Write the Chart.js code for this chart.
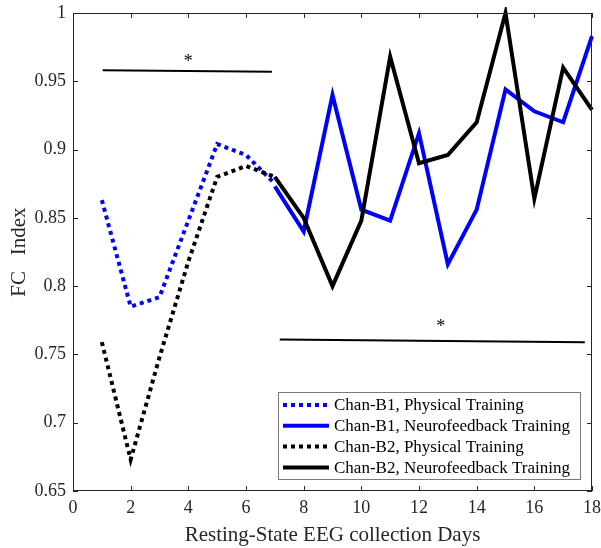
<!DOCTYPE html>
<html>
<head>
<meta charset="utf-8">
<script src="https://cdn.jsdelivr.net/npm/chart.js@4.4.1/dist/chart.umd.min.js"></script>
<style>
  html, body { margin: 0; padding: 0; background: #fff; }
  #wrap { width: 601px; height: 548px; }
</style>
</head>
<body>
<div id="wrap"><canvas id="chartFC" width="601" height="548"></canvas></div>
<script>
// datos
const diasFisico = [1, 2, 3, 4, 5, 6, 7]
const diasNeuro = [7, 8, 9, 10, 11, 12, 13, 14, 15, 16, 17, 18]

const b1Fisico = [0.863, 0.785, 0.792, 0.848, 0.904, 0.896, 0.875]
const b1Neuro = [0.873, 0.840, 0.940, 0.856, 0.848, 0.912, 0.816, 0.856, 0.944, 0.928, 0.920, 0.983]
const b2Fisico = [0.759, 0.673, 0.748, 0.818, 0.880, 0.888, 0.880]
const b2Neuro = [0.880, 0.850, 0.800, 0.848, 0.968, 0.890, 0.896, 0.920, 1.000, 0.864, 0.960, 0.929]

const etiquetas = [
    'Chan-B1, Physical Training',
    'Chan-B1, Neurofeedback Training',
    'Chan-B2, Physical Training',
    'Chan-B2, Neurofeedback Training'
]

// lineas de significancia y asteriscos
const sigX1 = [1.03, 6.9]
const sigY1 = [0.958, 0.957]
const sigX2 = [7.17, 17.75]
const sigY2 = [0.761, 0.759]
const asteriscos = [{ x: 4.0, y: 0.966 }, { x: 12.75, y: 0.772 }]

const xTicks = [0, 2, 4, 6, 8, 10, 12, 14, 16, 18]
const yTicks = [0.65, 0.7, 0.75, 0.8, 0.85, 0.9, 0.95, 1]

const aPuntos = (xs, ys) => xs.map((x, i) => ({ x: x, y: ys[i] }))

const fuente = '"Liberation Serif", "Times New Roman", serif'
const gris = '#262626'

const serie = (datos, color, punteada, orden) => ({
    data: datos,
    borderColor: color,
    borderWidth: 4,
    borderDash: punteada ? [4, 4] : [],
    borderCapStyle: 'butt',
    borderJoinStyle: 'miter',
    pointRadius: 0,
    tension: 0,
    fill: false,
    clip: 6,
    order: orden
})

const lineaSig = (datos) => ({
    data: datos,
    borderColor: '#000',
    borderWidth: 2,
    pointRadius: 0,
    fill: false,
    order: 0
})

// marco con ticks hacia adentro en los cuatro lados
const marcoPlugin = {
    id: 'marco',
    afterDatasetsDraw(chart) {
        const { ctx, chartArea: a, scales } = chart
        ctx.save()
        ctx.strokeStyle = gris
        ctx.lineWidth = 1
        ctx.setLineDash([])
        ctx.strokeRect(a.left + 0.5, a.top + 0.5, a.right - a.left - 1, a.bottom - a.top - 1)
        const largo = 5
        ctx.beginPath()
        xTicks.forEach(v => {
            const px = Math.round(scales.x.getPixelForValue(v)) + 0.5
            ctx.moveTo(px, a.bottom); ctx.lineTo(px, a.bottom - largo)
            ctx.moveTo(px, a.top); ctx.lineTo(px, a.top + largo)
        })
        yTicks.forEach(v => {
            const py = Math.round(scales.y.getPixelForValue(v)) + 0.5
            ctx.moveTo(a.left, py); ctx.lineTo(a.left + largo, py)
            ctx.moveTo(a.right, py); ctx.lineTo(a.right - largo, py)
        })
        ctx.stroke()

        // asteriscos
        ctx.fillStyle = '#000'
        ctx.font = '18px ' + fuente
        ctx.textAlign = 'center'
        ctx.textBaseline = 'middle'
        asteriscos.forEach(s => {
            ctx.fillText('*', scales.x.getPixelForValue(s.x), scales.y.getPixelForValue(s.y) + 3)
        })
        ctx.restore()
    }
}

// leyenda dibujada a mano (como la de MATLAB)
const leyendaPlugin = {
    id: 'leyendaFC',
    afterDraw(chart) {
        const { ctx, chartArea: a } = chart
        const ancho = 302, alto = 87
        const x0 = a.right - 12 - ancho
        const y0 = a.bottom - 12 - alto
        ctx.save()
        ctx.fillStyle = '#fff'
        ctx.fillRect(x0, y0, ancho, alto)
        ctx.strokeStyle = '#7a7a7a'
        ctx.lineWidth = 1
        ctx.strokeRect(x0 + 0.5, y0 + 0.5, ancho, alto)
        const estilos = chart.data.datasets.slice(0, 4)
        ctx.font = '17px ' + fuente
        ctx.textBaseline = 'middle'
        ctx.textAlign = 'left'
        estilos.forEach((ds, i) => {
            const y = y0 + 13 + i * 20.8
            ctx.beginPath()
            ctx.strokeStyle = ds.borderColor
            ctx.lineWidth = 4
            ctx.lineCap = 'butt'
            ctx.setLineDash(ds.borderDash.length ? [4, 4] : [])
            ctx.moveTo(x0 + 5, y)
            ctx.lineTo(x0 + 51, y)
            ctx.stroke()
            ctx.setLineDash([])
            ctx.fillStyle = '#000'
            ctx.fillText(etiquetas[i], x0 + 56, y + 1)
        })
        ctx.restore()
    }
}

const canvas = document.getElementById('chartFC')
const context = canvas.getContext('2d')

const chartFC = new Chart(context, {
    type: 'line',
    data: {
        datasets: [
            serie(aPuntos(diasFisico, b1Fisico), '#0000ff', true, 2),
            serie(aPuntos(diasNeuro, b1Neuro), '#0000ff', false, 2),
            serie(aPuntos(diasFisico, b2Fisico), '#000000', true, 1),
            serie(aPuntos(diasNeuro, b2Neuro), '#000000', false, 1),
            lineaSig(aPuntos(sigX1, sigY1)),
            lineaSig(aPuntos(sigX2, sigY2))
        ]
    },
    options: {
        responsive: false,
        animation: false,
        layout: { padding: 0 },
        plugins: {
            legend: { display: false },
            tooltip: { enabled: false }
        },
        scales: {
            x: {
                type: 'linear',
                min: 0,
                max: 18,
                grid: { display: false, drawTicks: false, tickLength: 0 },
                border: { display: false },
                afterBuildTicks: (s) => { s.ticks = xTicks.map(v => ({ value: v })) },
                afterFit: (s) => { s.height = 57; s.paddingRight = 9; s.paddingLeft = 0 },
                ticks: {
                    color: gris,
                    padding: 6,
                    maxRotation: 0,
                    font: { family: fuente, size: 18 },
                    callback: (v) => String(v)
                },
                title: {
                    display: true,
                    text: 'Resting-State EEG collection Days',
                    color: gris,
                    padding: { top: 0, bottom: 0 },
                    font: { family: fuente, size: 21 }
                }
            },
            y: {
                type: 'linear',
                min: 0.65,
                max: 1,
                grid: { display: false, drawTicks: false, tickLength: 0 },
                border: { display: false },
                afterBuildTicks: (s) => { s.ticks = yTicks.map(v => ({ value: v })) },
                afterFit: (s) => { s.width = 73; s.paddingTop = 13; s.paddingBottom = 0 },
                ticks: {
                    color: gris,
                    padding: 7,
                    font: { family: fuente, size: 18 },
                    callback: (v) => String(+Number(v).toFixed(2))
                },
                title: {
                    display: true,
                    text: 'FC   Index',
                    color: gris,
                    padding: { top: 7, bottom: 0 },
                    font: { family: fuente, size: 21 }
                }
            }
        }
    },
    plugins: [marcoPlugin, leyendaPlugin]
})
</script>
</body>
</html>
